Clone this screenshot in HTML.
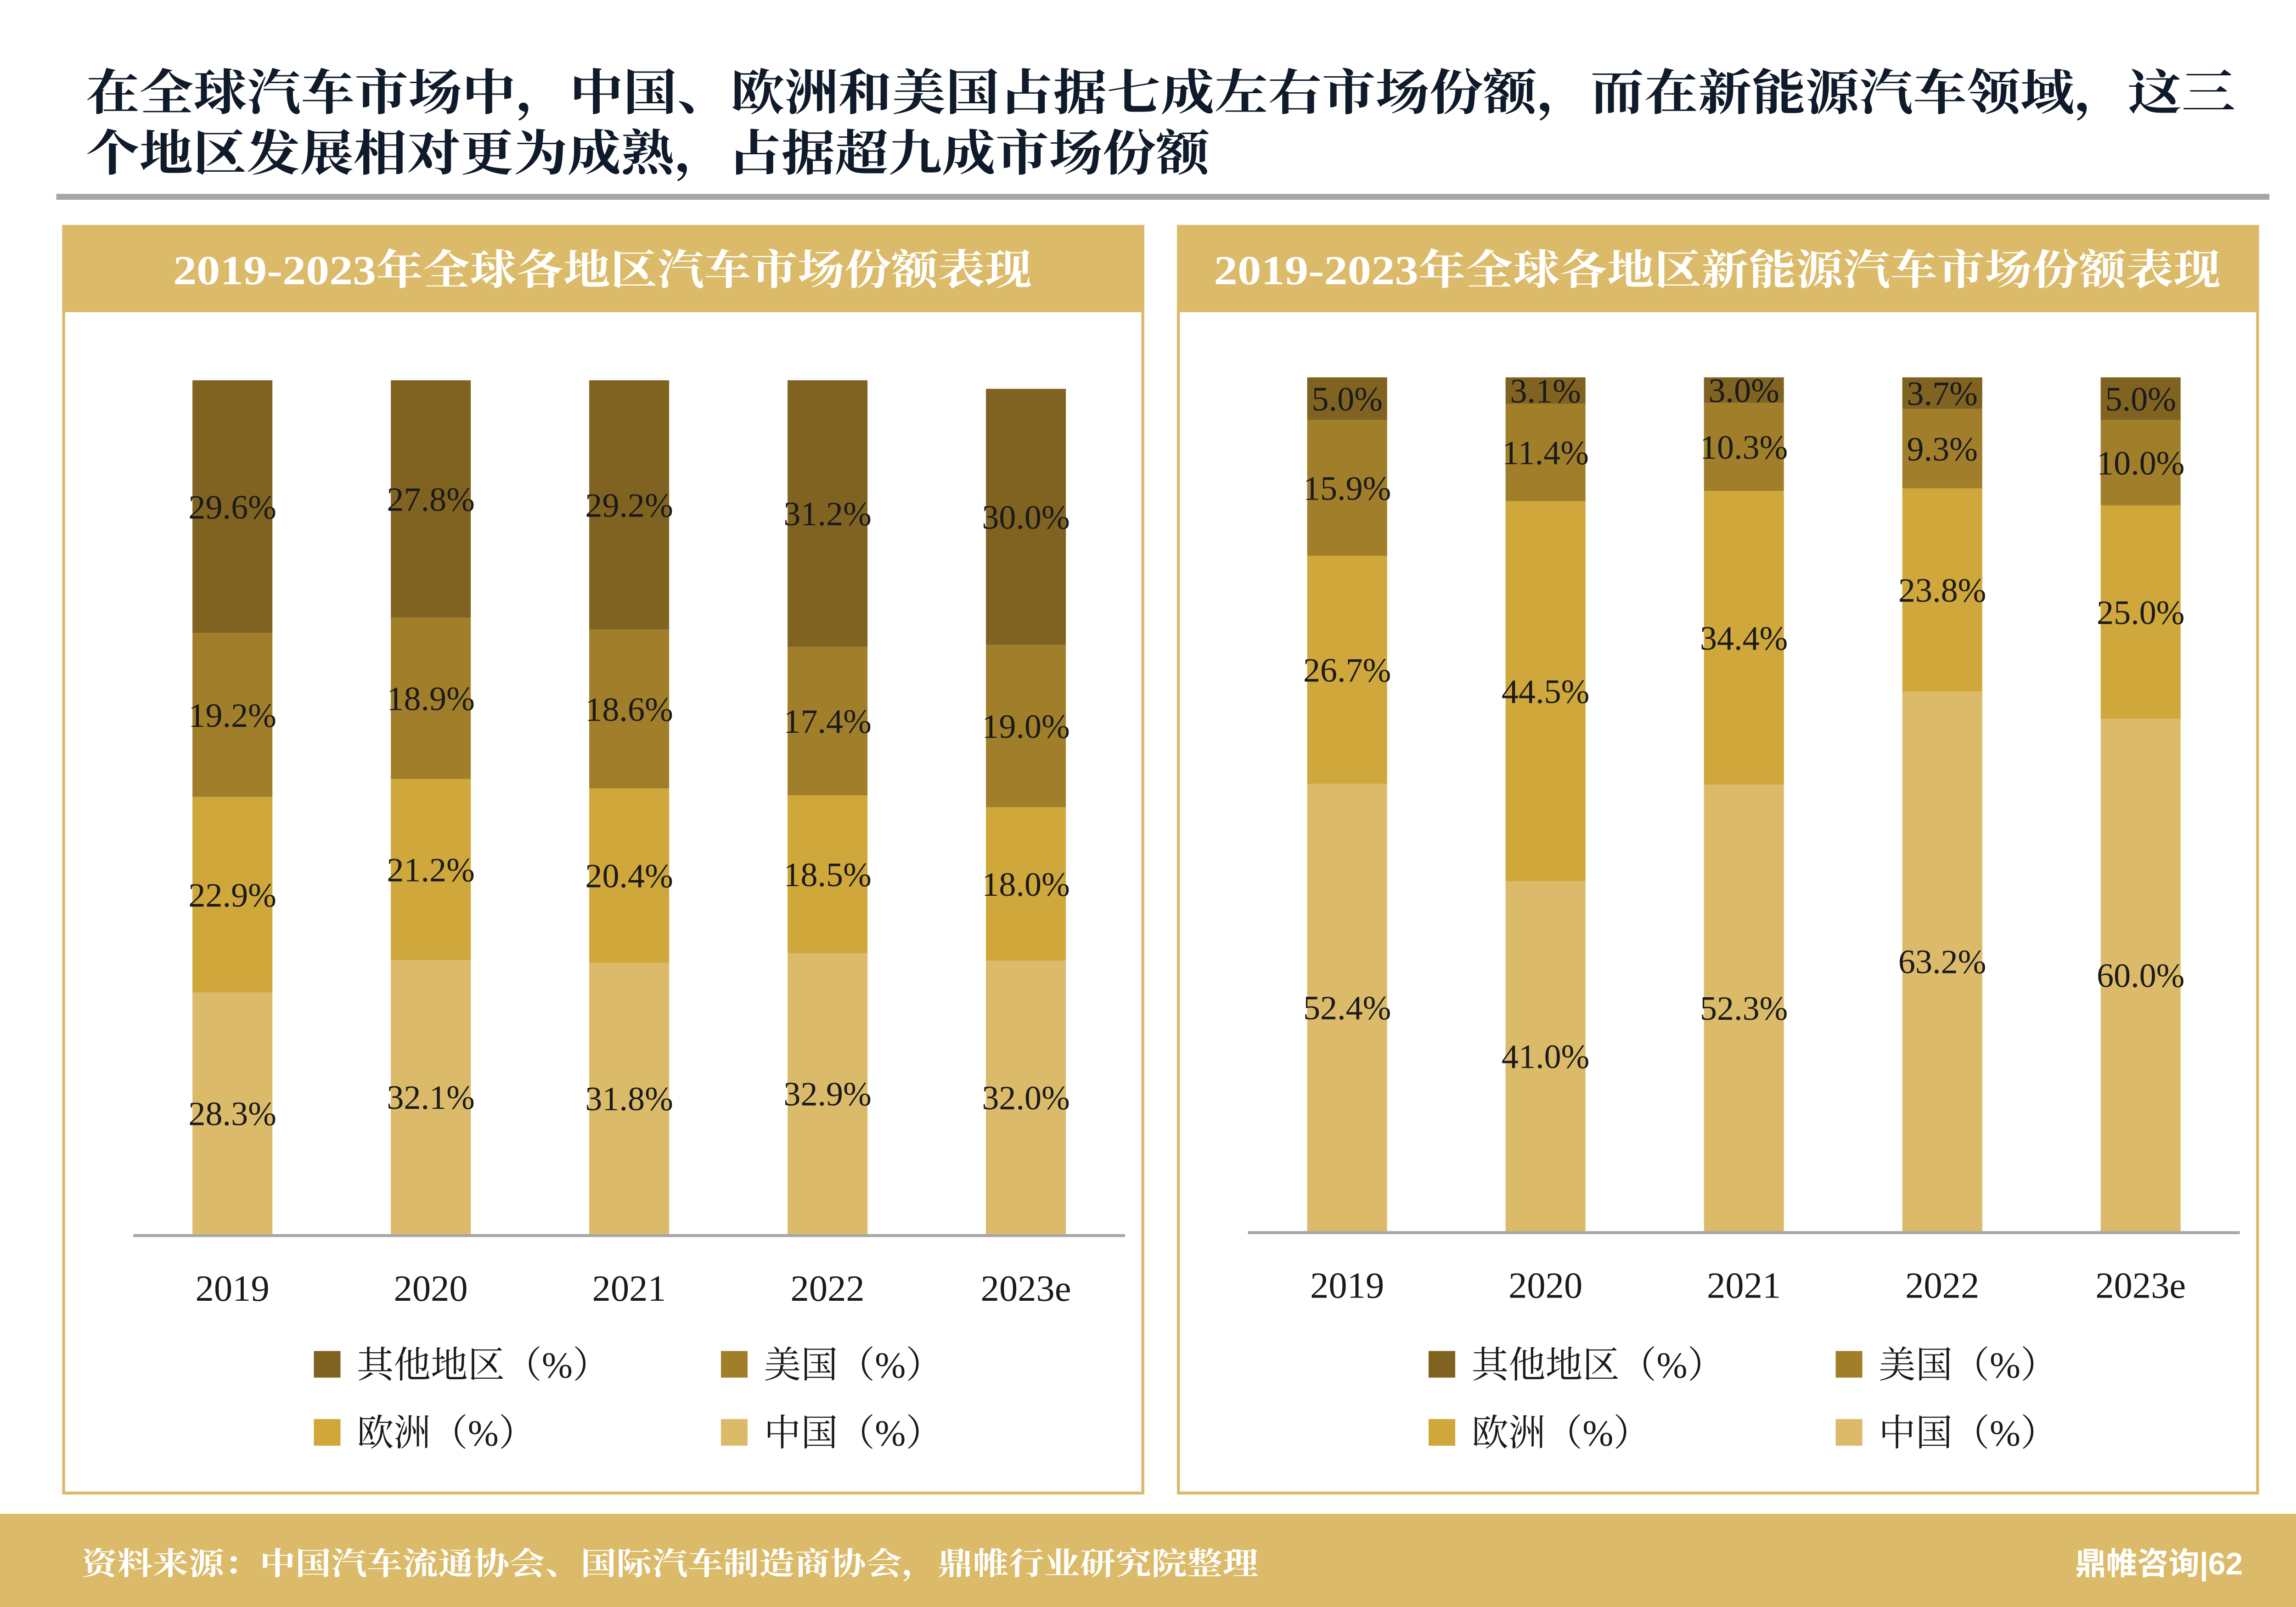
<!DOCTYPE html>
<html><head><meta charset="utf-8"><style>
html,body{margin:0;padding:0;background:#fff;}
svg{display:block;}
</style></head><body>
<svg id="s" width="5055" height="3500" viewBox="0 0 1568 1086" preserveAspectRatio="none" xmlns="http://www.w3.org/2000/svg">
<rect width="1568" height="1086" fill="#fff"/>
<g font-family="'Liberation Serif','Noto Serif CJK SC',serif" font-weight="bold" font-size="33" fill="#0f1a2a">
<text x="58" y="74" textLength="1452" lengthAdjust="spacingAndGlyphs">在全球汽车市场中，中国、欧洲和美国占据七成左右市场份额，而在新能源汽车领域，这三</text>
<text x="58" y="115" textLength="759" lengthAdjust="spacingAndGlyphs">个地区发展相对更为成熟，占据超九成市场份额</text>
</g>
<rect x="38" y="131" width="1495" height="4" fill="#a6a6a8"/>
<g id="p1">
<rect x="43" y="153" width="729" height="856" fill="none" stroke="#dbbb6a" stroke-width="2"/>
<rect x="42" y="152" width="731" height="59" fill="#dbbb6a"/>
<text x="117" y="192" textLength="580" lengthAdjust="spacingAndGlyphs" font-family="'Liberation Serif','Noto Serif CJK SC',serif" font-weight="bold" font-size="28" fill="#fff">2019-2023年全球各地区汽车市场份额表现</text>
</g>
<g id="p2">
<rect x="796" y="153" width="729" height="856" fill="none" stroke="#dbbb6a" stroke-width="2"/>
<rect x="795" y="152" width="731" height="59" fill="#dbbb6a"/>
<text x="820" y="192" textLength="680" lengthAdjust="spacingAndGlyphs" font-family="'Liberation Serif','Noto Serif CJK SC',serif" font-weight="bold" font-size="28" fill="#fff">2019-2023年全球各地区新能源汽车市场份额表现</text>
</g>
<rect x="0" y="1023" width="1568" height="63" fill="#dbbb6a"/>
<text x="55" y="1064" textLength="795" lengthAdjust="spacingAndGlyphs" font-family="'Liberation Serif','Noto Serif CJK SC',serif" font-weight="bold" font-size="21" fill="#fff">资料来源：中国汽车流通协会、国际汽车制造商协会，鼎帷行业研究院整理</text>
<text x="1515" y="1064" text-anchor="end" font-family="'Liberation Sans','Noto Sans CJK SC',sans-serif" font-weight="bold" font-size="21" fill="#fff">鼎帷咨询|62</text>
</svg>
<script>
const categories = ["2019","2020","2021","2022","2023e"];
const seriesNames = ["中国（%）","欧洲（%）","美国（%）","其他地区（%）"];
const autoChina = [28.3,32.1,31.8,32.9,32.0];
const autoEurope = [22.9,21.2,20.4,18.5,18.0];
const autoUS = [19.2,18.9,18.6,17.4,19.0];
const autoOther = [29.6,27.8,29.2,31.2,30.0];
const nevChina = [52.4,41.0,52.3,63.2,60.0];
const nevEurope = [26.7,44.5,34.4,23.8,25.0];
const nevUS = [15.9,11.4,10.3,9.3,10.0];
const nevOther = [5.0,3.1,3.0,3.7,5.0];

const NS="http://www.w3.org/2000/svg";
const svg=document.getElementById('s');
const colors=["#dbbb6a","#cfa73b","#a17f2a","#806321"];
const segNames=["china","europe","us","other"];
function mk(tag,attrs,parent){const e=document.createElementNS(NS,tag);for(const k in attrs)e.setAttribute(k,attrs[k]);(parent||svg).appendChild(e);return e;}
function draw(prefix,ox,base,series){
  const g=mk('g',{});
  
  
  const x0=ox+48, x1=ox+718;
  const step=(x1-x0)/categories.length;
  const xPos=i=>x0+step*(i+0.5);
  const yScale=v=>v*5.77;
  const ax=mk('line',{x1:x0,x2:x1,y1:base+1,y2:base+1,stroke:"#a6a6a8","stroke-width":2},g);
  
  
  categories.forEach((c,i)=>{
    let y=base;
    series.forEach((arr,s)=>{
      const h=yScale(arr[i]);
      y-=h;
      const r=mk('rect',{x:xPos(i)-27,y:y,width:54,height:h,fill:colors[s]},g);
      
      
      const t=mk('text',{x:xPos(i),y:y+h/2+8,"text-anchor":"middle","font-family":"'Liberation Serif',serif","font-size":23,fill:"#1a1a1a"},g);
      t.textContent=arr[i].toFixed(1)+'%';
      
      
    });
    const tl=mk('text',{x:xPos(i),y:base+45,"text-anchor":"middle","font-family":"'Liberation Serif',serif","font-size":25,fill:"#1a1a1a"},g);
    tl.textContent=c;
    
    
  });
  const leg=[[3,0,0],[2,1,0],[1,0,1],[0,1,1]];
  leg.forEach(([s,col,row])=>{
    const lx=ox+170+col*275, ly=913+row*46;
    const lg=mk('g',{},g);
    
    
    mk('rect',{x:lx,y:ly,width:18,height:18,fill:colors[s]},lg);
    const lt=mk('text',{x:lx+29,y:ly+18,"font-family":"'Liberation Serif','Noto Serif CJK SC',serif","font-size":25,fill:"#1a1a1a"},lg);
    lt.textContent=seriesNames[s];
  });
}
draw('auto',42,834,[autoChina,autoEurope,autoUS,autoOther]);
draw('nev',795,832,[nevChina,nevEurope,nevUS,nevOther]);
</script>
</body></html>
